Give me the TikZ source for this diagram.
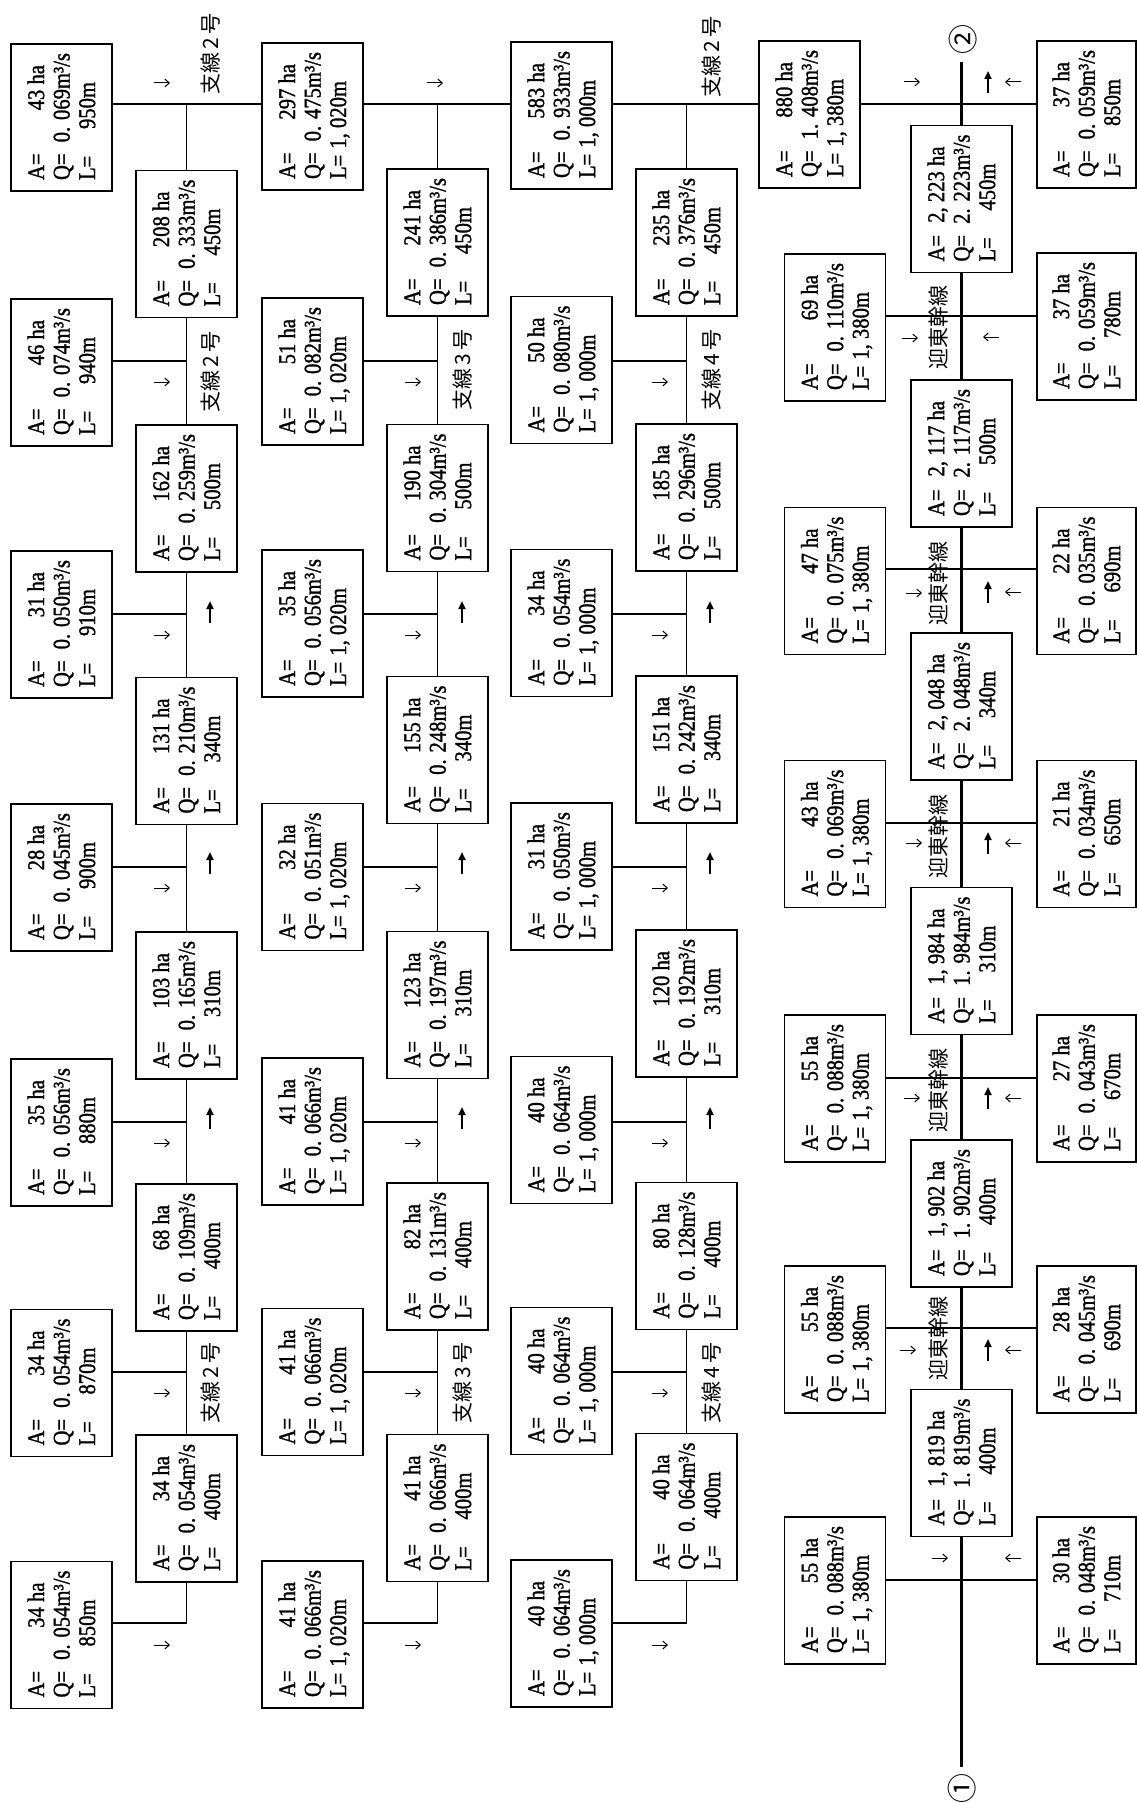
\documentclass[tikz,border=0pt]{standalone}
\usepackage{fontspec}
\usepackage{graphicx}
\setmainfont{Liberation Serif}[FakeStretch=0.86,FakeBold=1.2]
\newfontfamily\jp{Noto Sans CJK JP}
\usetikzlibrary{arrows.meta}

\newcommand\cb[3]{\rotatebox{90}{\raisebox{-3pt}[\height][\depth]{\fontsize{24}{25.5}\selectfont\begin{tabular}{@{\hspace{2pt}}l@{}}\makebox[115pt][l]{A=\hfill#1 ha}\\\makebox[127pt][l]{Q=\hfill#2m³/s}\\\makebox[98pt][l]{L=\hfill#3m}\end{tabular}}}}
\newcommand\bx[6]{\node[cbox] (#1) at (#2,#3) {\cb{#4}{#5}{#6}};}
\newcommand\bxr[6]{\node[cbox, minimum width=99pt] (#1) at (#2,#3) {\cb{#4}{#5}{#6}};}
\newcommand\ra[2]{\draw[thinar] (#1-8,#2) -- (#1+8,#2);}
\newcommand\la[2]{\draw[thinar] (#1+8,#2) -- (#1-8,#2);}
\newcommand\ua[2]{\draw[boldar] (#1,#2+11) -- (#1,#2-11);}

\tikzset{
  cbox/.style={draw, line width=1.5pt, minimum width=101pt, minimum height=147pt, inner sep=0pt, fill=white},
  brl/.style={line width=1.9pt},
  lat/.style={line width=1.2pt},
  coll/.style={line width=1.5pt},
  mainl/.style={line width=3.4pt},
  thinar/.style={line width=1pt, -{Straight Barb[length=4.5pt,width=8pt]}},
  boldar/.style={line width=2.3pt, -{Triangle[length=8pt,width=7pt]}},
  lbl/.style={rotate=90, inner sep=0pt, font=\jp\fontsize{21}{21}\selectfont},
  circ/.style={rotate=90, inner sep=0pt, font=\jp\fontsize{30}{30}\selectfont},
}

\begin{document}
\begin{tikzpicture}[x=1pt,y=-1pt]
\fill[white] (0,0) rectangle (1136,1803);
\useasboundingbox (0,0) rectangle (1136,1803);

% column a
\bx{a1}{61.5}{117.5}{43}{0. 069}{950}
\bx{a2}{61.5}{372.5}{46}{0. 074}{940}
\bx{a3}{61.5}{624.5}{31}{0. 050}{910}
\bx{a4}{61.5}{877.5}{28}{0. 045}{900}
\bx{a5}{61.5}{1132.5}{35}{0. 056}{880}
\bx{a6}{61.5}{1383}{34}{0. 054}{870}
\bx{a7}{61.5}{1635}{34}{0. 054}{850}
% column b
\bx{b1}{186.5}{244}{208}{0. 333}{450}
\bx{b2}{186.5}{498.5}{162}{0. 259}{500}
\bx{b3}{186.5}{751}{131}{0. 210}{340}
\bx{b4}{186.5}{1005.5}{103}{0. 165}{310}
\bx{b5}{186.5}{1257.5}{68}{0. 109}{400}
\bx{b6}{186.5}{1508.5}{34}{0. 054}{400}
% column c
\bx{c1}{312.5}{116.5}{297}{0. 475}{1, 020}
\bx{c2}{312.5}{371.5}{51}{0. 082}{1, 020}
\bx{c3}{312.5}{623.5}{35}{0. 056}{1, 020}
\bx{c4}{312.5}{877}{32}{0. 051}{1, 020}
\bx{c5}{312.5}{1131.5}{41}{0. 066}{1, 020}
\bx{c6}{312.5}{1382}{41}{0. 066}{1, 020}
\bx{c7}{312.5}{1634.5}{41}{0. 066}{1, 020}
% column d
\bx{d1}{437.5}{242.5}{241}{0. 386}{450}
\bx{d2}{437.5}{498}{190}{0. 304}{500}
\bx{d3}{437.5}{750}{155}{0. 248}{340}
\bx{d4}{437.5}{1005}{123}{0. 197}{310}
\bx{d5}{437.5}{1256.5}{82}{0. 131}{400}
\bx{d6}{437.5}{1508}{41}{0. 066}{400}
% column e
\bx{e1}{561.5}{115.5}{583}{0. 933}{1, 000}
\bx{e2}{561.5}{370}{50}{0. 080}{1, 000}
\bx{e3}{561.5}{623}{34}{0. 054}{1, 000}
\bx{e4}{561.5}{876.5}{31}{0. 050}{1, 000}
\bx{e5}{561.5}{1130}{40}{0. 064}{1, 000}
\bx{e6}{561.5}{1381}{40}{0. 064}{1, 000}
\bx{e7}{561.5}{1633.5}{40}{0. 064}{1, 000}
% column f
\bx{f1}{686.5}{242.5}{235}{0. 376}{450}
\bx{f2}{686.5}{497.5}{185}{0. 296}{500}
\bx{f3}{686.5}{749.5}{151}{0. 242}{340}
\bx{f4}{686.5}{1003.5}{120}{0. 192}{310}
\bx{f5}{686.5}{1256}{80}{0. 128}{400}
\bx{f6}{686.5}{1507}{40}{0. 064}{400}
% column g
\bx{g1}{809.5}{114.5}{880}{1. 408}{1, 380}
% main left laterals
\bx{ml1}{835}{327.5}{69}{0. 110}{1, 380}
\bx{ml2}{835}{581}{47}{0. 075}{1, 380}
\bx{ml3}{835}{834}{43}{0. 069}{1, 380}
\bx{ml4}{835}{1088.5}{55}{0. 088}{1, 380}
\bx{ml5}{835}{1339.5}{55}{0. 088}{1, 380}
\bx{ml6}{835}{1590.5}{55}{0. 088}{1, 380}
% main boxes
\bx{m1}{961.5}{199}{2, 223}{2. 223}{450}
\bx{m2}{961.5}{453.5}{2, 117}{2. 117}{500}
\bx{m3}{961.5}{706.5}{2, 048}{2. 048}{340}
\bx{m4}{961.5}{961}{1, 984}{1. 984}{310}
\bx{m5}{961.5}{1213.5}{1, 902}{1. 902}{400}
\bx{m6}{961.5}{1463}{1, 819}{1. 819}{400}
% main right laterals
\bxr{mr1}{1086.5}{114.5}{37}{0. 059}{850}
\bxr{mr2}{1086.5}{326.5}{37}{0. 059}{780}
\bxr{mr3}{1086.5}{581}{22}{0. 035}{690}
\bxr{mr4}{1086.5}{834}{21}{0. 034}{650}
\bxr{mr5}{1086.5}{1088.5}{27}{0. 043}{670}
\bxr{mr6}{1086.5}{1339.5}{28}{0. 045}{690}
\bxr{mr7}{1086.5}{1590.5}{30}{0. 048}{710}

% end circles
\node[circ] (n2) at (963,40) {②};
\node[circ] (n1) at (962,1788) {①};

% junctions
\foreach \nm/\xx in {b/186.5, d/437.5, f/686.5}{
  \coordinate (j\nm0) at (\xx,104);
  \coordinate (j\nm1) at (\xx,361);
  \coordinate (j\nm2) at (\xx,614);
  \coordinate (j\nm3) at (\xx,867);
  \coordinate (j\nm4) at (\xx,1122);
  \coordinate (j\nm5) at (\xx,1372);
  \coordinate (j\nm6) at (\xx,1623);
}
\coordinate (jm0) at (961.5,104);
\coordinate (jm1) at (961.5,316);
\coordinate (jm2) at (961.5,569);
\coordinate (jm3) at (961.5,823);
\coordinate (jm4) at (961.5,1078);
\coordinate (jm5) at (961.5,1328);
\coordinate (jm6) at (961.5,1580);
\coordinate (M0) at (961.5,62);
\coordinate (M7) at (961.5,1767);

% collector
\draw[coll] (a1.east |- jb0) -- (jb0) -- (c1.west |- jb0);
\draw[coll] (c1.east |- jd0) -- (jd0) -- (e1.west |- jd0);
\draw[coll] (e1.east |- jf0) -- (jf0) -- (g1.west |- jf0);
\draw[coll] (g1.east |- jm0) -- (jm0) -- (mr1.west |- jm0);

% branch lines
\foreach \br/\lt in {b/a, d/c, f/e}{
  \draw[brl] (j\br0) -- (\br1.north);
  \draw[brl] (\br1.south) -- (\br2.north);
  \draw[brl] (\br2.south) -- (\br3.north);
  \draw[brl] (\br3.south) -- (\br4.north);
  \draw[brl] (\br4.south) -- (\br5.north);
  \draw[brl] (\br5.south) -- (\br6.north);
  \draw[brl] (\br6.south) -- (j\br6);
  \draw[lat] (\lt2.east |- j\br1) -- (j\br1);
  \draw[lat] (\lt3.east |- j\br2) -- (j\br2);
  \draw[lat] (\lt4.east |- j\br3) -- (j\br3);
  \draw[lat] (\lt5.east |- j\br4) -- (j\br4);
  \draw[lat] (\lt6.east |- j\br5) -- (j\br5);
  \draw[lat] (\lt7.east |- j\br6) -- (j\br6);
}

% main line
\draw[mainl] (M0) -- (m1.north);
\draw[mainl] (m1.south) -- (m2.north);
\draw[mainl] (m2.south) -- (m3.north);
\draw[mainl] (m3.south) -- (m4.north);
\draw[mainl] (m4.south) -- (m5.north);
\draw[mainl] (m5.south) -- (m6.north);
\draw[mainl] (m6.south) -- (M7);
\draw[lat] (ml1.east |- jm1) -- (jm1) -- (mr2.west |- jm1);
\draw[lat] (ml2.east |- jm2) -- (jm2) -- (mr3.west |- jm2);
\draw[lat] (ml3.east |- jm3) -- (jm3) -- (mr4.west |- jm3);
\draw[lat] (ml4.east |- jm4) -- (jm4) -- (mr5.west |- jm4);
\draw[lat] (ml5.east |- jm5) -- (jm5) -- (mr6.west |- jm5);
\draw[lat] (ml6.east |- jm6) -- (jm6) -- (mr7.west |- jm6);

% flow arrows
\ra{162}{83} \ra{435}{83} \ra{912}{82}
\foreach \yy in {382,635,888,1143,1393,1645}{
  \ra{162}{\yy} \ra{413}{\yy} \ra{660}{\yy}
}
\foreach \yy in {612,863,1118}{
  \ua{210}{\yy} \ua{462}{\yy} \ua{710}{\yy}
}
\ra{910}{338} \ra{914}{593} \ra{914}{843} \ra{912}{1098} \ra{908}{1350} \ra{940}{1558}
\la{1013}{82} \la{991}{337} \la{1013}{592} \la{1013}{843} \la{1013}{1098} \la{1013}{1350} \la{1013}{1558}
\foreach \yy in {82,592,843,1098,1350}{ \ua{988}{\yy} }

% labels
\node[lbl] (t1) at (211,54) {支線\,2\,号};
\node[lbl] (t2) at (712,57) {支線\,2\,号};
\node[lbl] (t3) at (211,372) {支線\,2\,号};
\node[lbl] (t4) at (211,1383) {支線\,2\,号};
\node[lbl] (t5) at (463,370) {支線\,3\,号};
\node[lbl] (t6) at (463,1383) {支線\,3\,号};
\node[lbl] (t7) at (712,370) {支線\,4\,号};
\node[lbl] (t8) at (712,1383) {支線\,4\,号};
\node[lbl] (k1) at (938,327) {迎東幹線};
\node[lbl] (k2) at (938,583) {迎東幹線};
\node[lbl] (k3) at (938,836) {迎東幹線};
\node[lbl] (k4) at (938,1090) {迎東幹線};
\node[lbl] (k5) at (938,1338) {迎東幹線};
\end{tikzpicture}
\end{document}
